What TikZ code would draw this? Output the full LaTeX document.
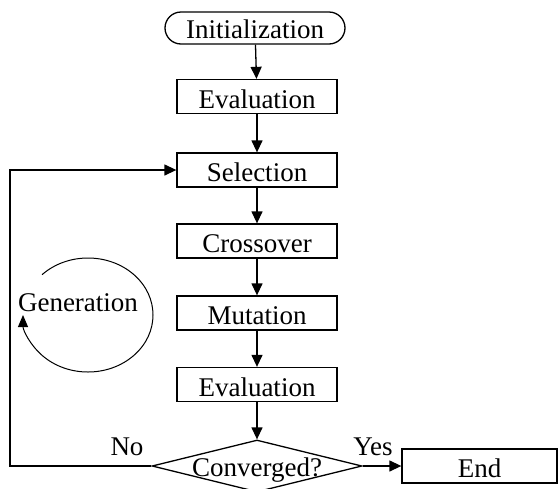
\documentclass[tikz,border=0pt]{standalone}
\usepackage{fontspec}
\setmainfont{Liberation Serif}
\usetikzlibrary{shapes.misc,shapes.geometric,arrows.meta}
\begin{document}
\begin{tikzpicture}[x=1pt,y=-1pt,
  every node/.style={font=\fontsize{27}{30}\selectfont},
  proc/.style={draw, line width=1.3pt, minimum width=160pt, minimum height=34pt, inner sep=0pt, text height=23pt, text depth=0pt},
  term/.style={draw, rounded rectangle, line width=1.3pt, minimum width=180pt, minimum height=32pt, inner sep=0pt, text height=20pt, text depth=0pt},
  dec/.style={draw, diamond, line width=1.3pt, minimum width=210pt, minimum height=52pt, inner sep=0pt},
  lbl/.style={anchor=base, inner sep=0pt},
  line/.style={line width=1.3pt},
  arr/.style={line, -{Triangle[length=12pt,width=11pt]}},
  thinarr/.style={line width=1pt, -{Triangle[length=12pt,width=10pt]}}]
\useasboundingbox (0,0) rectangle (560,488);
\clip (0,0) rectangle (560,488);
\node[term] (init) at (255,28) {Initialization};
\node[proc] (eval1) at (257,96.5) {Evaluation};
\node[proc] (sel) at (257,170) {Selection};
\node[proc] (cross) at (257,241) {Crossover};
\node[proc] (mut) at (257,313) {Mutation};
\node[proc] (eval2) at (257,384.5) {Evaluation};
\node[dec] (conv) at (257,466) {};
\node[lbl] (convt) at (257,476) {Converged?};
\node[proc, minimum width=155pt] (end) at (479.5,466) {End};
\node[lbl] (no) at (127,455) {No};
\node[lbl] (yes) at (373,455) {Yes};
\node[inner sep=0pt] (gen) at (78,303) {Generation};
\coordinate (fb) at (10,466);
\draw[arr] (init) -- (eval1);
\draw[arr] (eval1) -- (sel);
\draw[arr] (sel) -- (cross);
\draw[arr] (cross) -- (mut);
\draw[arr] (mut) -- (eval2);
\draw[arr] (eval2) -- (conv);
\draw[arr] (conv.east) -- (end.west);
\draw[arr] (conv.west) -- (fb) |- (sel.west);
\draw[thinarr] (88,315) ++(225:65 and 57) arc[start angle=225, end angle=540, x radius=65, y radius=57];
\end{tikzpicture}
\end{document}
